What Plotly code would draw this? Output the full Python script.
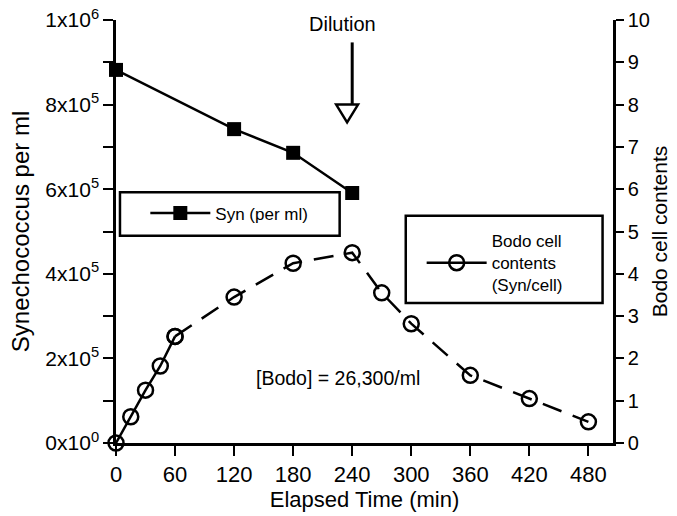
import plotly.graph_objects as go

# Data
syn_time = [0, 120, 180, 240]
syn_per_ml = [882000, 742000, 686000, 591000]

bodo_time_early = [0, 15, 30, 45, 60]
bodo_early = [0.0, 0.62, 1.25, 1.82, 2.52]
bodo_time_late = [60, 120, 180, 240, 270, 300, 360, 420, 480]
bodo_late = [2.52, 3.45, 4.25, 4.5, 3.55, 2.82, 1.6, 1.05, 0.5]

x_ticks = [0, 60, 120, 180, 240, 300, 360, 420, 480]
left_tickvals = [0, 200000, 400000, 600000, 800000, 1000000]
left_ticktext = ["0x10<sup>0</sup>", "2x10<sup>5</sup>", "4x10<sup>5</sup>",
                 "6x10<sup>5</sup>", "8x10<sup>5</sup>", "1x10<sup>6</sup>"]
right_ticks = list(range(0, 11))

FONT = "Liberation Sans, Arial, Helvetica, sans-serif"

fig = go.Figure()

fig.add_trace(go.Scatter(
    x=syn_time, y=syn_per_ml, mode="lines+markers", name="Syn (per ml)",
    line=dict(color="black", width=2.5), cliponaxis=False,
    marker=dict(symbol="square", size=14, color="black"),
    legend="legend", yaxis="y"))

fig.add_trace(go.Scatter(
    x=bodo_time_early, y=bodo_early, mode="lines+markers",
    name="Bodo cell<br>contents<br>(Syn/cell)",
    line=dict(color="black", width=2.5), cliponaxis=False,
    marker=dict(symbol="circle-open", size=15, color="black", line=dict(width=2.5)),
    legend="legend2", yaxis="y2"))

fig.add_trace(go.Scatter(
    x=bodo_time_late, y=bodo_late, mode="lines+markers", showlegend=False,
    line=dict(color="black", width=2.5, dash="20px,12px"), cliponaxis=False,
    marker=dict(symbol="circle-open", size=15, color="black", line=dict(width=2.5)),
    yaxis="y2"))

def axis_common(size, ticklen=10):
    return dict(showline=True, linecolor="black", linewidth=2.5, ticks="outside",
                tickcolor="black", tickwidth=2, ticklen=ticklen, showgrid=False, zeroline=False,
                automargin=False, ticklabeloverflow="allow",
                tickfont=dict(family=FONT, size=size, color="black"))

fig.update_layout(
    template="none",
    width=677, height=516,
    margin=dict(l=116, r=64, t=20, b=73),
    paper_bgcolor="white", plot_bgcolor="white",
    font=dict(family=FONT, color="black"),
    xaxis=dict(range=[0, 505], tickvals=x_ticks,
               title=dict(text="Elapsed Time (min)", font=dict(size=22), standoff=4),
               **axis_common(22)),
    yaxis=dict(range=[0, 1000000], tickvals=left_tickvals, ticktext=left_ticktext,
               minor=dict(dtick=100000, ticks="outside", ticklen=10, tickwidth=2, tickcolor="black"),
               title=dict(text="Synechococcus per ml", font=dict(size=24), standoff=9),
               **axis_common(21)),
    yaxis2=dict(range=[0, 10], tickvals=right_ticks, overlaying="y", side="right",
                title=dict(text="Bodo cell contents", font=dict(size=21), standoff=4),
                **axis_common(20, 8)),
    legend=dict(x=0.059, y=0.585, xanchor="left", yanchor="top",
                bgcolor="rgba(0,0,0,0)", borderwidth=0, itemwidth=60,
                font=dict(size=17)),
    legend2=dict(x=0.615, y=0.52, xanchor="left", yanchor="top",
                 bgcolor="rgba(0,0,0,0)", borderwidth=0, itemwidth=60,
                 font=dict(size=17)),
    showlegend=True,
)

# Legend boxes
fig.add_shape(type="rect", xref="paper", yref="paper", x0=0.008, x1=0.45, y0=0.49, y1=0.593,
              line=dict(color="black", width=2.5))
fig.add_shape(type="rect", xref="paper", yref="paper", x0=0.583, x1=0.979, y0=0.331, y1=0.537,
              line=dict(color="black", width=2.5))

# Dilution arrow
fig.add_annotation(x=240, y=1.0, xref="x", yref="paper", text="Dilution", showarrow=False,
                   yanchor="middle", xshift=-10, yshift=-4, font=dict(size=20))
fig.add_shape(type="line", xref="x", yref="paper", x0=240, x1=240, y0=0.947, y1=0.80,
              line=dict(color="black", width=3))
fig.add_shape(type="path", xref="paper", yref="paper",
              path="M 0.443,0.80 L 0.487,0.80 L 0.465,0.758 Z",
              line=dict(color="black", width=2.5), fillcolor="white")

fig.add_annotation(x=226, y=1.53, xref="x", yref="y2", text="[Bodo] = 26,300/ml",
                   showarrow=False, font=dict(size=19.5))

# Remove the default 8px page margin so the figure sits at the window's corner.
fig.write_html("out.html", config={"displayModeBar": False},
               post_script="document.body.style.margin='0';")
